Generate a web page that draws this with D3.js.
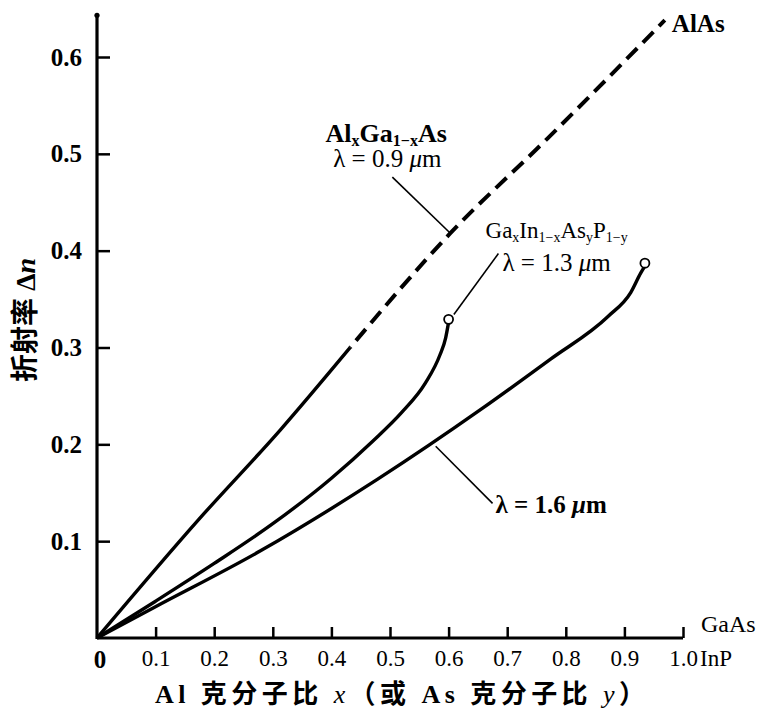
<!DOCTYPE html>
<html>
<head>
<meta charset="utf-8">
<script src="https://cdn.jsdelivr.net/npm/d3@7"></script>
<style>
	body { margin: 0; background: #fff; }
	svg { display: block; }
</style>
</head>
<body>
<div id="chart"></div>
<script>
// values (x = mole fraction, y = refractive index step)
var xTicks = [0.1, 0.2, 0.3, 0.4, 0.5, 0.6, 0.7, 0.8, 0.9, 1.0];
var yTicks = [0.1, 0.2, 0.3, 0.4, 0.5, 0.6];

// AlxGa1-xAs, lambda = 0.9 um : solid part then dashed to AlAs
var alGaAsSolid = [[0, 0], [0.173, 0.122], [0.313, 0.215], [0.432, 0.300]];
var alGaAsDashed = [[0.432, 0.300], [0.603, 0.418], [0.769, 0.516], [0.969, 0.638]];

// GaxIn1-xAsyP1-y, lambda = 1.3 um
var gaInAsP13 = [[0, 0], [0.1, 0.038], [0.2, 0.077], [0.3, 0.118], [0.4, 0.165], [0.47, 0.203],
	[0.52, 0.233], [0.56, 0.263], [0.585, 0.292], [0.595, 0.31], [0.6, 0.326]];

// GaxIn1-xAsyP1-y, lambda = 1.6 um
var gaInAsP16 = [[0, 0], [0.099, 0.032], [0.279, 0.090], [0.479, 0.164], [0.655, 0.236],
	[0.774, 0.288], [0.872, 0.332], [0.911, 0.357], [0.928, 0.377], [0.935, 0.384]];

// leader lines of the labels, in data units
var leaders = [
	[[0.504, 0.476], [0.603, 0.418]],
	[[0.609, 0.334], [0.685, 0.397]],
	[[0.578, 0.198], [0.675, 0.139]]
];

var serif = "'Liberation Serif', 'DejaVu Serif', serif";
var cjk = "'Liberation Serif', 'Noto Sans CJK SC', serif";

var W = 761, H = 715;
var svg = d3.select("#chart")
	.append("svg")
	.attr("width", W)
	.attr("height", H)
	.style("background", "#fff");

var x = d3.scaleLinear().domain([0, 1]).range([97, 683]);
var y = d3.scaleLinear().domain([0, 0.6]).range([638, 57]);

// x axis: labels below, ticks pointing up into the plot
var gx = svg.append("g")
	.attr("transform", "translate(0," + y(0) + ")")
	.call(d3.axisBottom(x).tickValues(xTicks).tickSizeInner(-11).tickSizeOuter(0).tickPadding(12).tickFormat(d3.format(".1f")));
gx.select(".domain").remove();
gx.selectAll(".tick line").attr("stroke", "#000").style("stroke-width", "2.5px");
gx.selectAll(".tick text")
	.attr("fill", "#000")
	.style("font-family", serif)
	.style("font-size", "23px");

// y axis: labels left, ticks pointing right
var gy = svg.append("g")
	.attr("transform", "translate(" + x(0) + ",0)")
	.call(d3.axisLeft(y).tickValues(yTicks).tickSizeInner(-13).tickSizeOuter(0).tickPadding(15).tickFormat(d3.format(".1f")));
gy.select(".domain").remove();
gy.selectAll(".tick line").attr("stroke", "#000").style("stroke-width", "2.5px");
gy.selectAll(".tick text")
	.attr("fill", "#000")
	.style("font-family", serif)
	.style("font-weight", "bold")
	.style("font-size", "25px");

// axis lines
svg.append("line")
	.attr("x1", x(0)).attr("x2", x(1))
	.attr("y1", y(0)).attr("y2", y(0))
	.attr("stroke", "#000").attr("stroke-width", 3);
svg.append("line")
	.attr("x1", x(0)).attr("x2", x(0))
	.attr("y1", y(0) + 1).attr("y2", y(0.643))
	.attr("stroke", "#000").attr("stroke-width", 3.2);
svg.append("circle")
	.attr("cx", x(0)).attr("cy", y(0.643)).attr("r", 2.6).attr("fill", "#000");

// curves
var line = d3.line()
	.x(function (d) { return x(d[0]); })
	.y(function (d) { return y(d[1]); })
	.curve(d3.curveMonotoneX);

svg.append("path").datum(alGaAsSolid)
	.attr("d", line).attr("fill", "none").attr("stroke", "#000").attr("stroke-width", 3.4);
svg.append("path").datum(alGaAsDashed)
	.attr("d", line).attr("fill", "none").attr("stroke", "#000").attr("stroke-width", 4)
	.attr("stroke-dasharray", "15,8").attr("stroke-dashoffset", -9);
svg.append("path").datum(gaInAsP13)
	.attr("d", line).attr("fill", "none").attr("stroke", "#000").attr("stroke-width", 3.4);
svg.append("path").datum(gaInAsP16)
	.attr("d", line).attr("fill", "none").attr("stroke", "#000").attr("stroke-width", 3.4);

// open circles at the end of the quaternary curves
svg.selectAll(".endpt")
	.data([gaInAsP13[gaInAsP13.length - 1], gaInAsP16[gaInAsP16.length - 1]])
	.enter()
	.append("circle")
	.attr("cx", function (d) { return x(d[0]); })
	.attr("cy", function (d) { return y(d[1]) - 3; })
	.attr("r", 4.5)
	.attr("fill", "#fff")
	.attr("stroke", "#000")
	.attr("stroke-width", 1.8);

// leaders
svg.selectAll(".leader")
	.data(leaders)
	.enter()
	.append("line")
	.attr("x1", function (d) { return x(d[0][0]); })
	.attr("y1", function (d) { return y(d[0][1]); })
	.attr("x2", function (d) { return x(d[1][0]); })
	.attr("y2", function (d) { return y(d[1][1]); })
	.attr("stroke", "#000")
	.attr("stroke-width", 1.6);

// text with subscripts: parts = [text, sub?, italic?]
function richText(px, py, parts, size, weight) {
	var t = svg.append("text")
		.attr("x", px).attr("y", py)
		.attr("fill", "#000")
		.style("font-family", serif)
		.style("font-size", size + "px")
		.style("font-weight", weight || "normal");
	var shifted = false;
	parts.forEach(function (p) {
		var ts = t.append("tspan").text(p[0]);
		if (p[1]) {
			ts.style("font-size", Math.round(size * 0.6) + "px");
			if (!shifted) { ts.attr("dy", 4); shifted = true; }
		} else if (shifted) {
			ts.attr("dy", -4); shifted = false;
		}
		if (p[2]) ts.style("font-style", "italic");
	});
	return t;
}

richText(x(0.390), y(0.512), [["Al"], ["x", 1], ["Ga"], ["1\u2212x", 1], ["As"]], 26, "bold");
richText(x(0.403), y(0.486), [["\u03bb = 0.9 "], ["\u03bc", 0, 1], ["m"]], 25);
richText(x(0.663), y(0.413), [["Ga"], ["x", 1], ["In"], ["1\u2212x", 1], ["As"], ["y", 1], ["P"], ["1\u2212y", 1]], 23);
richText(x(0.692), y(0.379), [["\u03bb = 1.3 "], ["\u03bc", 0, 1], ["m"]], 25);
richText(x(0.680), y(0.129), [["\u03bb = 1.6 "], ["\u03bc", 0, 1], ["m"]], 25, "bold");
richText(x(0.981), y(0.626), [["AlAs"]], 25, "bold");
richText(x(1) + 18, y(0) - 6, [["GaAs"]], 24);
richText(x(1) + 17, y(0) + 28, [["InP"]], 23);

// zero at the origin
svg.append("text")
	.attr("x", x(0) + 3).attr("y", y(0) + 30)
	.attr("text-anchor", "middle")
	.attr("fill", "#000")
	.style("font-family", serif)
	.style("font-weight", "bold")
	.style("font-size", "25px")
	.text("0");

// x axis title
var xt = svg.append("text")
	.attr("x", 400).attr("y", 703)
	.attr("text-anchor", "middle")
	.attr("fill", "#000")
	.attr("textLength", 490)
	.attr("lengthAdjust", "spacing")
	.style("font-family", cjk)
	.style("font-weight", "bold")
	.style("font-size", "26px");
xt.append("tspan").text("Al 克分子比 ");
xt.append("tspan").text("x").style("font-style", "italic").style("font-weight", "normal");
xt.append("tspan").text("（或 As 克分子比 ");
xt.append("tspan").text("y").style("font-style", "italic").style("font-weight", "normal");
xt.append("tspan").text("）");

// y axis title
var yt = svg.append("text")
	.attr("transform", "translate(35,320) rotate(-90)")
	.attr("text-anchor", "middle")
	.attr("fill", "#000")
	.style("font-family", cjk)
	.style("font-weight", "bold")
	.style("font-size", "28px");
yt.append("tspan").text("折射率 Δ");
yt.append("tspan").text("n").style("font-style", "italic");
</script>
</body>
</html>
